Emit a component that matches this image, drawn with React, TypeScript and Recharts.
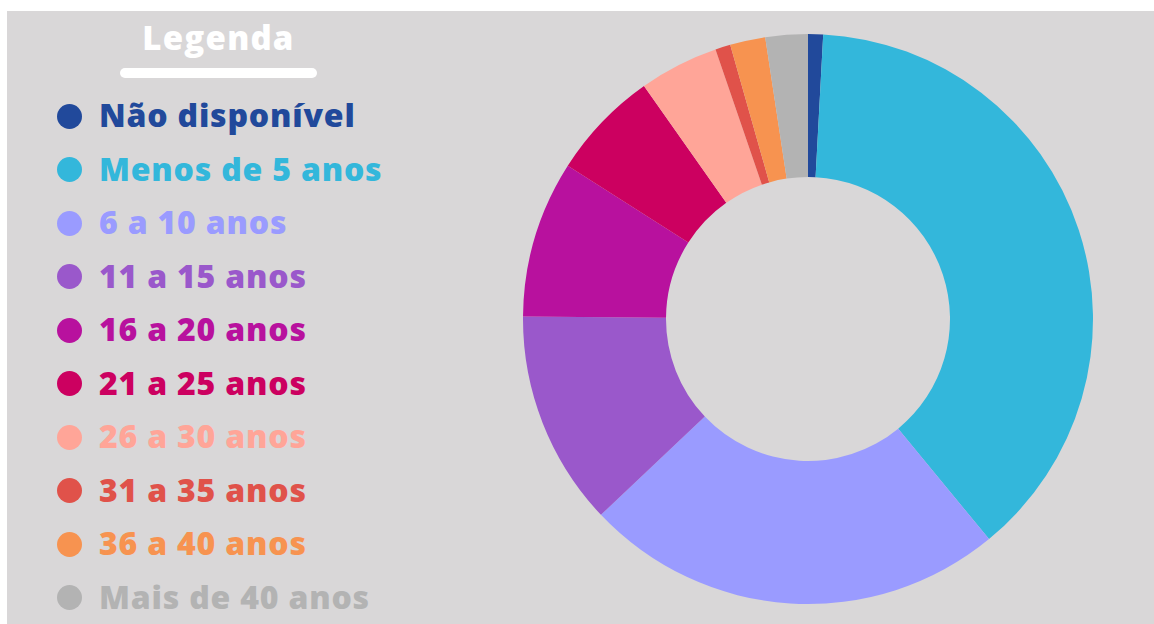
import { PieChart, Pie, Cell } from 'recharts';

const categories = [
  'Não disponível',
  'Menos de 5 anos',
  '6 a 10 anos',
  '11 a 15 anos',
  '16 a 20 anos',
  '21 a 25 anos',
  '26 a 30 anos',
  '31 a 35 anos',
  '36 a 40 anos',
  'Mais de 40 anos',
];
const shares = [0.85, 38.2, 23.9, 12.2, 8.9, 6.2, 4.5, 0.86, 2.0, 2.4];
const colors = [
  '#21499b',
  '#33b7db',
  '#9a9bff',
  '#9a58cb',
  '#b8119e',
  '#cc0060',
  '#ffa598',
  '#e0524a',
  '#f79350',
  '#b3b3b3',
];

const data = categories.map((name, i) => ({ name, value: shares[i] }));

const BG = '#d9d7d8';
const FONT = '"Open Sans", Lato, sans-serif';

function LegendBox() {
  return (
    <div style={{ position: 'absolute', left: 0, top: 0, width: 420, height: 613, fontFamily: FONT }}>
      <div
        style={{
          position: 'absolute',
          left: 113,
          top: 7,
          width: 197,
          textAlign: 'center',
          color: '#fff',
          fontWeight: 800,
          fontSize: 33,
          lineHeight: '40px',
          letterSpacing: 1.2,
        }}
      >
        Legenda
      </div>
      <div
        style={{
          position: 'absolute',
          left: 113,
          top: 57,
          width: 197,
          height: 10,
          borderRadius: 5,
          background: '#fff',
        }}
      />
      {data.map((d, i) => (
        <div
          key={d.name}
          style={{
            position: 'absolute',
            left: 50,
            top: 105 + i * 53.5 - 20,
            height: 40,
            display: 'flex',
            alignItems: 'center',
            whiteSpace: 'nowrap',
          }}
        >
          <span
            style={{
              display: 'inline-block',
              width: 25,
              height: 25,
              borderRadius: '50%',
              background: colors[i],
              marginRight: 17,
            }}
          />
          <span style={{ color: colors[i], fontWeight: 800, fontSize: 32, letterSpacing: 0.8, marginTop: -3 }}>
            {d.name}
          </span>
        </div>
      ))}
    </div>
  );
}

export default function App() {
  return (
    <div style={{ position: 'absolute', left: 0, top: 0, width: 1154, height: 624, background: '#fff' }}>
      <div style={{ position: 'absolute', left: 7, top: 11, width: 1147, height: 613, background: BG }}>
        <LegendBox />
        <div style={{ position: 'absolute', left: 0, top: 0 }}>
          <PieChart width={1147} height={613} margin={{ top: 0, right: 0, bottom: 0, left: 0 }}>
            <Pie
              data={data}
              dataKey="value"
              nameKey="name"
              cx={801}
              cy={308}
              innerRadius={142}
              outerRadius={285}
              startAngle={90}
              endAngle={-270}
              stroke="none"
              isAnimationActive={false}
            >
              {data.map((d, i) => (
                <Cell key={d.name} fill={colors[i]} />
              ))}
            </Pie>
          </PieChart>
        </div>
      </div>
    </div>
  );
}
